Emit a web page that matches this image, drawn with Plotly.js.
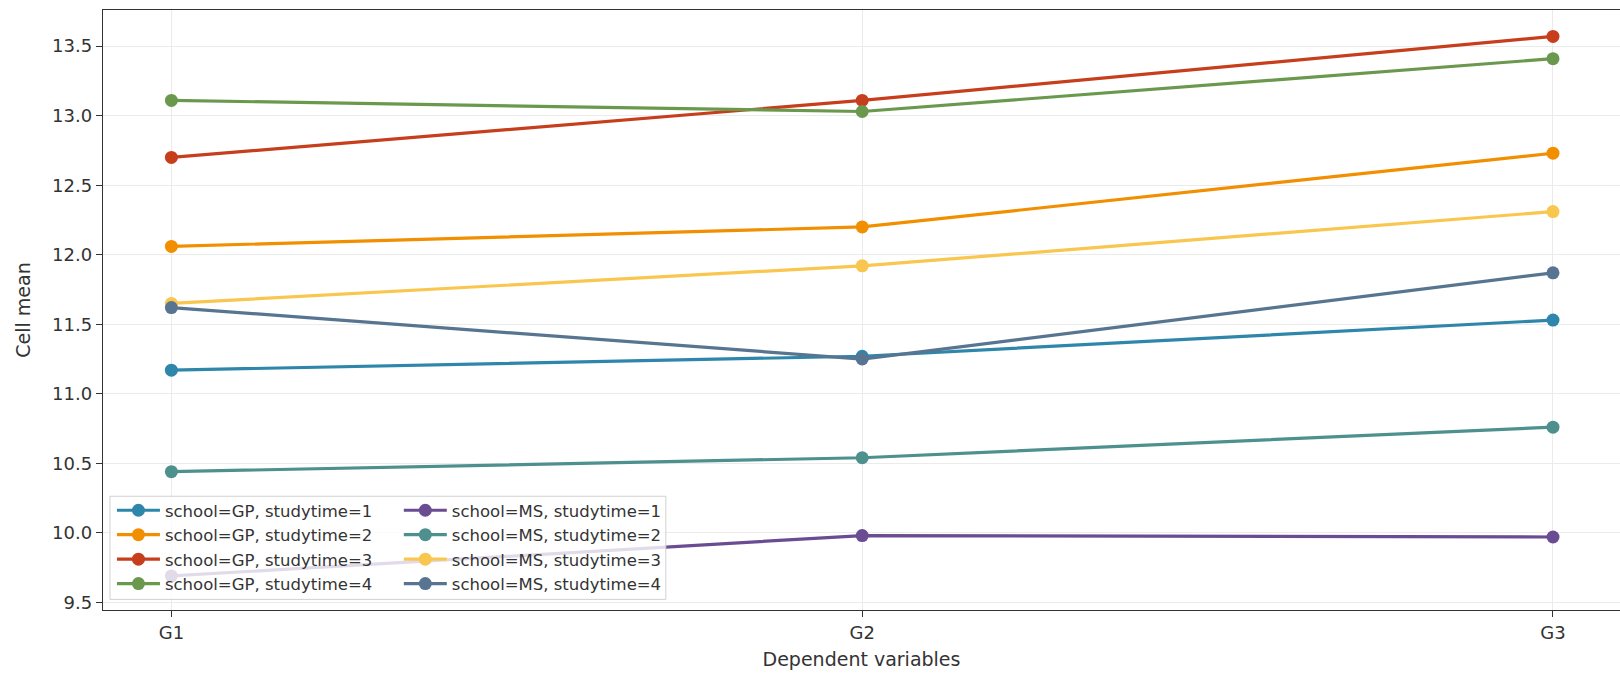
<!DOCTYPE html>
<html>
<head>
<meta charset="utf-8">
<script src="https://cdn.plot.ly/plotly-3.0.1.min.js"></script>
<style>html,body{margin:0;padding:0;background:#fff;}#chart{width:1620px;height:675px;}</style>
</head>
<body>
<div id="chart"></div>
<script>
const categories = ['G1', 'G2', 'G3'];

const seriesNames = [
  'school=GP, studytime=1',
  'school=GP, studytime=2',
  'school=GP, studytime=3',
  'school=GP, studytime=4',
  'school=MS, studytime=1',
  'school=MS, studytime=2',
  'school=MS, studytime=3',
  'school=MS, studytime=4'
];

const gp_st1 = [11.17, 11.27, 11.53];
const gp_st2 = [12.06, 12.20, 12.73];
const gp_st3 = [12.70, 13.11, 13.57];
const gp_st4 = [13.11, 13.03, 13.41];
const ms_st1 = [9.69, 9.98, 9.97];
const ms_st2 = [10.44, 10.54, 10.76];
const ms_st3 = [11.65, 11.92, 12.31];
const ms_st4 = [11.62, 11.25, 11.87];

const seriesValues = [gp_st1, gp_st2, gp_st3, gp_st4, ms_st1, ms_st2, ms_st3, ms_st4];
const colors = ['#2E86AB', '#F18F01', '#C73E1D', '#6A994E', '#6A4C93', '#4D908E', '#F9C74F', '#577590'];
const legendIds = ['legend', 'legend', 'legend', 'legend', 'legend2', 'legend2', 'legend2', 'legend2'];

const traces = seriesNames.map((name, i) => ({
  type: 'scatter',
  mode: 'lines+markers',
  name: name,
  x: categories,
  y: seriesValues[i],
  line: {color: colors[i], width: 3.2},
  marker: {color: colors[i], size: 13},
  legend: legendIds[i]
}));

const fontFam = 'DejaVu Sans, sans-serif';
const legendFont = {family: fontFam, size: 16.5, color: '#333333'};
const legendBase = {
  orientation: 'v',
  yanchor: 'top',
  xanchor: 'left',
  bgcolor: 'rgba(0,0,0,0)',
  borderwidth: 0,
  font: legendFont,
  traceorder: 'normal',
  itemwidth: 43
};

const layout = {
  width: 1620,
  height: 675,
  paper_bgcolor: '#ffffff',
  plot_bgcolor: '#ffffff',
  margin: {l: 103, r: 0, t: 10, b: 65, pad: 0},
  font: {family: fontFam, color: '#333333', size: 18},
  showlegend: true,
  xaxis: {
    type: 'category',
    range: [-0.099, 2.097],
    showgrid: true,
    gridcolor: '#ebebeb',
    gridwidth: 1,
    showline: true,
    mirror: true,
    linecolor: '#333333',
    linewidth: 1.3,
    ticks: 'outside',
    ticklen: 6,
    tickcolor: '#333333',
    tickfont: {family: fontFam, size: 18, color: '#333333'},
    zeroline: false,
    title: {text: 'Dependent variables', font: {family: fontFam, size: 19, color: '#333333'}, standoff: 10}
  },
  yaxis: {
    range: [9.445, 13.76],
    dtick: 0.5,
    tick0: 9.5,
    tickformat: '.1f',
    showgrid: true,
    gridcolor: '#ebebeb',
    gridwidth: 1,
    showline: true,
    mirror: false,
    linecolor: '#333333',
    linewidth: 1.3,
    ticks: 'outside',
    ticklen: 6,
    tickcolor: '#333333',
    tickfont: {family: fontFam, size: 18, color: '#333333'},
    zeroline: false,
    title: {text: 'Cell mean', font: {family: fontFam, size: 19, color: '#333333'}, standoff: 16}
  },
  legend: Object.assign({}, legendBase, {x: 0.0059, y: 0.195}),
  legend2: Object.assign({}, legendBase, {x: 0.195, y: 0.195}),
  shapes: [{
    type: 'rect',
    xref: 'paper', yref: 'paper',
    x0: 0.0046, x1: 0.371, y0: 0.0177, y1: 0.1896,
    fillcolor: 'rgba(255,255,255,0.8)',
    line: {color: '#d0d0d0', width: 1},
    layer: 'above'
  }]
};

Plotly.newPlot('chart', traces, layout, {displayModeBar: false, staticPlot: true});
</script>
</body>
</html>
